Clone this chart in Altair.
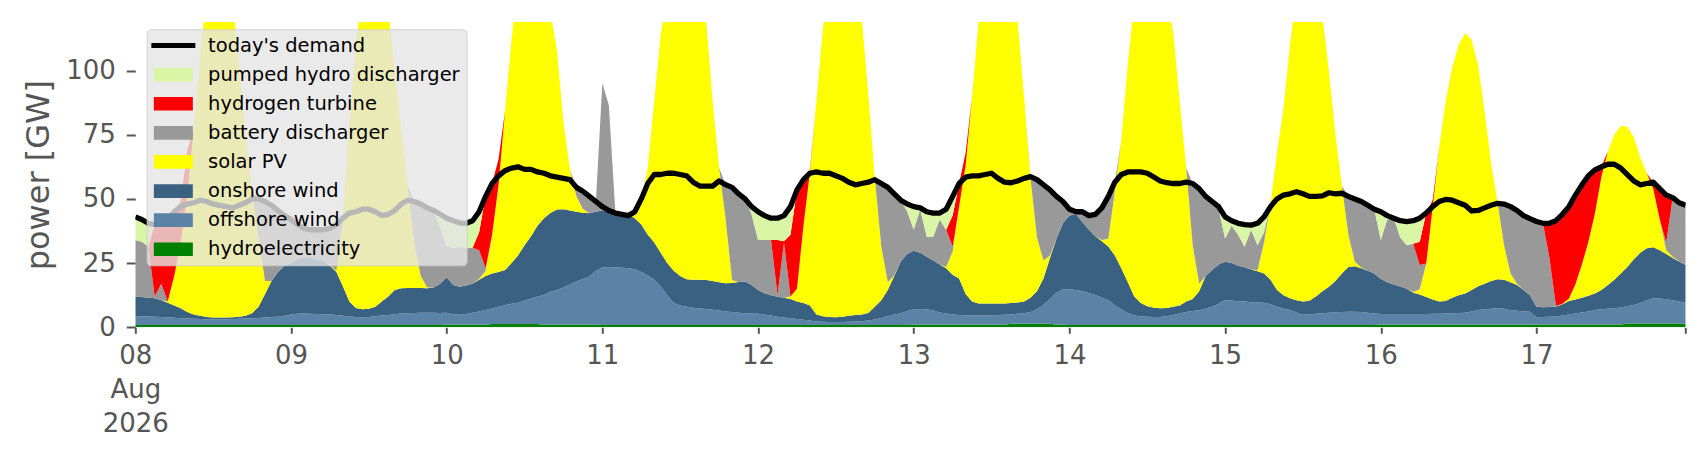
import altair as alt
import pandas as pd

# hourly values, 8-17 Aug 2026 (UTC), GW -- one row of 24 per day
hydroelectricity = [
    0.9, 0.9, 0.9, 0.9, 0.9, 0.9, 0.9, 0.9, 0.9, 0.9, 0.9, 0.9, 0.9, 0.9, 0.9, 0.9, 0.9, 0.9, 0.9, 0.9, 0.9, 0.9, 0.9, 0.9,
    0.9, 0.9, 0.9, 0.9, 0.9, 0.9, 0.9, 0.9, 0.9, 0.9, 0.9, 0.9, 0.9, 0.9, 0.9, 0.9, 0.9, 0.9, 0.9, 0.9, 0.9, 0.9, 0.9, 0.9,
    1.0, 1.0, 1.0, 1.0, 1.0, 1.0, 1.0, 1.3, 1.3, 1.3, 1.3, 1.3, 1.3, 1.3, 1.3, 1.0, 1.0, 1.0, 1.0, 1.0, 1.0, 1.0, 1.0, 1.0,
    0.9, 0.9, 0.9, 0.9, 0.9, 0.9, 0.9, 0.9, 0.9, 0.9, 0.9, 0.9, 0.9, 0.9, 0.9, 0.9, 0.9, 0.9, 0.9, 0.9, 0.9, 0.9, 0.9, 0.9,
    0.9, 0.9, 0.9, 0.9, 0.9, 0.9, 0.9, 0.9, 0.9, 0.9, 0.9, 0.9, 0.9, 0.9, 0.9, 0.9, 0.9, 0.9, 0.9, 0.9, 0.9, 0.9, 0.9, 0.9,
    1.0, 1.0, 1.0, 1.0, 1.0, 1.0, 1.0, 1.0, 1.0, 1.0, 1.0, 1.0, 1.0, 1.0, 1.0, 1.4, 1.4, 1.4, 1.4, 1.4, 1.4, 1.4, 1.0, 1.0,
    0.9, 0.9, 0.9, 0.9, 0.9, 0.9, 0.9, 0.9, 0.9, 0.9, 0.9, 0.9, 0.9, 0.9, 0.9, 0.9, 0.9, 0.9, 0.9, 0.9, 0.9, 0.9, 0.9, 0.9,
    0.9, 0.9, 0.9, 0.9, 0.9, 0.9, 0.9, 0.9, 0.9, 0.9, 0.9, 0.9, 0.9, 0.9, 0.9, 0.9, 0.9, 0.9, 0.9, 0.9, 0.9, 0.9, 0.9, 0.9,
    1.0, 1.0, 1.0, 1.0, 1.0, 1.0, 1.0, 1.0, 1.0, 1.0, 1.0, 1.0, 1.0, 1.0, 1.0, 1.0, 1.0, 1.0, 1.0, 1.0, 1.0, 1.0, 1.0, 1.0,
    1.1, 1.1, 1.1, 1.1, 1.1, 1.1, 1.1, 1.1, 1.1, 1.1, 1.1, 1.1, 1.1, 1.1, 1.5, 1.5, 1.5, 1.5, 1.5, 1.5, 1.5, 1.5, 1.5, 1.5,
]
offshore_wind = [
    3.5, 3.4, 3.3, 3.2, 3.1, 3.0, 2.8, 2.6, 2.5, 2.4, 2.3, 2.2, 2.2, 2.2, 2.2, 2.3, 2.4, 2.5, 2.6, 2.7, 2.9, 3.1, 3.2, 3.6,
    4.1, 4.4, 4.5, 4.4, 4.3, 4.2, 4.1, 3.9, 3.6, 3.3, 3.1, 3.0, 3.1, 3.4, 3.7, 3.9, 4.2, 4.5, 4.6, 4.7, 4.8, 4.8, 4.8, 4.7,
    4.7, 4.0, 3.9, 4.2, 4.7, 5.2, 5.7, 6.0, 6.7, 7.3, 7.9, 8.3, 9.0, 9.9, 10.7, 11.6, 12.8, 13.5, 14.5, 15.8, 16.8, 17.8, 18.8, 21.0,
    22.4, 22.6, 22.5, 22.3, 22.1, 21.7, 20.6, 19.4, 17.6, 15.1, 11.6, 8.6, 7.6, 7.1, 6.7, 6.4, 6.2, 5.9, 5.6, 5.3, 5.1, 4.8, 4.6, 4.5,
    4.4, 4.1, 3.7, 3.2, 2.9, 2.6, 2.3, 2.0, 1.7, 1.4, 1.3, 1.2, 1.2, 1.2, 1.3, 1.4, 1.5, 1.7, 2.1, 2.7, 3.4, 4.1, 4.6, 5.4,
    6.0, 6.1, 6.0, 5.5, 4.8, 4.4, 4.0, 3.8, 3.7, 3.7, 3.7, 3.7, 3.7, 3.8, 3.9, 3.6, 3.9, 4.1, 4.6, 5.6, 7.4, 9.6, 12.5, 13.8,
    13.9, 13.6, 13.1, 12.5, 11.7, 10.6, 9.7, 7.6, 6.1, 4.6, 3.7, 3.4, 3.2, 3.1, 3.1, 3.4, 3.9, 4.5, 5.1, 5.4, 5.7, 6.4, 7.1, 8.4,
    9.7, 9.5, 9.2, 9.1, 8.9, 8.8, 8.7, 8.1, 7.1, 6.3, 5.8, 4.9, 4.0, 4.2, 4.4, 4.6, 4.8, 5.0, 5.1, 5.2, 5.2, 5.1, 4.8, 4.5,
    4.2, 4.2, 4.2, 4.2, 4.2, 4.2, 4.2, 4.2, 4.3, 4.3, 4.4, 4.5, 4.6, 4.7, 5.2, 5.7, 6.0, 6.2, 6.4, 6.2, 5.6, 5.4, 5.2, 5.1,
    2.8, 2.9, 3.0, 3.1, 3.5, 3.9, 4.3, 4.7, 5.1, 5.6, 5.9, 6.1, 6.3, 6.6, 6.7, 7.2, 8.0, 9.0, 9.8, 9.7, 9.4, 9.0, 8.5, 8.1,
]
onshore_wind = [
    7.6, 7.5, 7.3, 7.2, 6.5, 5.7, 4.8, 3.9, 2.6, 1.7, 1.3, 0.9, 0.7, 0.7, 0.7, 0.7, 0.8, 1.1, 2.0, 4.4, 9.2, 14.0, 17.4, 19.5,
    20.0, 21.2, 21.8, 21.7, 21.3, 20.9, 19.0, 16.7, 11.5, 5.8, 3.5, 3.1, 3.2, 3.7, 5.4, 7.2, 9.4, 9.8, 9.8, 9.7, 9.6, 9.5, 9.8, 11.4,
    13.8, 11.5, 10.9, 11.1, 11.3, 12.3, 13.3, 13.7, 13.5, 13.7, 15.8, 18.4, 21.7, 24.3, 27.5, 29.9, 30.7, 31.4, 30.5, 28.7, 27.2, 25.8, 24.6, 23.0,
    22.2, 22.0, 21.6, 21.3, 21.0, 19.9, 18.5, 15.7, 14.5, 13.0, 12.5, 12.5, 11.5, 10.7, 10.9, 11.2, 11.3, 11.2, 11.0, 11.0, 11.3, 11.9, 12.3, 11.1,
    9.2, 8.3, 7.9, 7.8, 7.7, 7.5, 6.8, 6.6, 5.9, 2.7, 2.1, 1.9, 1.8, 2.0, 2.3, 2.5, 2.6, 3.0, 5.0, 6.9, 10.2, 15.0, 20.1, 22.2,
    22.8, 21.9, 20.5, 19.5, 18.7, 17.6, 15.5, 14.2, 8.3, 5.3, 4.6, 4.6, 4.6, 4.5, 4.4, 4.5, 4.4, 4.5, 5.5, 7.0, 10.2, 16.0, 21.0, 25.7,
    28.7, 29.5, 27.0, 24.6, 22.9, 22.0, 20.9, 19.5, 16.0, 12.0, 7.4, 5.2, 4.1, 3.6, 3.4, 3.2, 3.2, 3.1, 4.0, 4.7, 7.4, 12.7, 14.3, 15.2,
    14.9, 14.6, 13.9, 13.4, 12.7, 12.1, 11.4, 9.5, 6.5, 5.3, 4.6, 4.7, 5.1, 5.2, 6.7, 8.5, 10.1, 12.1, 15.0, 17.4, 17.7, 17.0, 16.3, 15.6,
    13.6, 12.3, 11.5, 10.7, 9.8, 8.3, 7.6, 6.6, 5.5, 4.7, 4.8, 6.0, 6.9, 7.5, 8.3, 9.3, 10.0, 10.8, 11.3, 11.3, 10.9, 10.1, 8.3, 6.4,
    4.1, 3.8, 3.8, 3.8, 4.4, 5.2, 5.4, 5.7, 6.1, 6.5, 7.5, 9.3, 11.1, 13.3, 15.3, 17.8, 19.5, 20.3, 19.9, 18.8, 17.6, 16.5, 15.5, 14.7,
]
solar_pv = [
    0, 0, 0, 0, 0, 0.4, 11.5, 25.6, 45, 72, 101, 126, 138, 140, 135, 124, 97, 70.5, 47.5, 27, 5, 0, 0, 0,
    0, 0, 0, 0, 0, 0, 0.3, 0.5, 26, 70, 102.5, 123, 135, 138, 130, 112, 85.5, 61.8, 39.7, 17.7, 4.7, 0.3, 0, 0,
    0, 0, 0, 0, 0, 0.3, 2, 15, 34, 62, 87, 108, 110, 105, 98, 88, 78, 62, 34, 16, 6, 1.5, 0, 0,
    0, 0, 0, 0, 0.2, 1, 10, 26, 55, 85, 105, 115, 118, 117, 112, 108, 101, 70, 44.5, 25, 1, 0, 0, 0,
    0, 0, 0, 0, 0, 1, 5, 30, 52, 83, 112, 130, 138, 140, 138, 130, 115, 85, 50, 21, 3, 0.3, 0, 0,
    0, 0, 0, 0, 0, 0.5, 9, 28, 50, 80, 110, 130, 138, 140, 137, 128, 110, 80, 46.5, 21, 7, 1, 0, 0,
    0, 0, 0, 0, 0, 0.5, 3, 25, 50, 85, 115, 130, 138, 140, 134, 120, 107, 79.5, 52, 21, 3, 0, 0, 0,
    0, 0, 0, 0, 0, 0.5, 12, 29.5, 53.5, 72.5, 98.7, 119.5, 128, 130, 126, 107, 84, 57, 34, 12.5, 1.7, 0.3, 0, 0,
    0, 0, 0, 0, 0, 0.2, 2, 13, 36, 60, 77.8, 89.5, 97.5, 101.3, 97.5, 86, 67, 46, 29.8, 13.5, 3.5, 0.5, 0, 0,
    0, 0, 0, 0, 0.2, 1, 6, 13, 21, 31, 44, 52, 56.5, 57.5, 54.5, 47.5, 37, 29.2, 22.8, 12, 1.5, 0.5, 0, 0,
]
battery_discharger = [
    22, 21.5, 20, 0.7, 6.5, 0, 0, 0, 0, 0, 0, 0, 0, 0, 0, 0, 0, 0, 0, 15, 31, 29.5, 24, 19.5,
    17, 13.5, 11.3, 11, 11.5, 12, 14.2, 18, 0.5, 0, 0, 0, 0, 0, 0, 0, 0, 0, 0, 16, 28, 31, 30, 22,
    12, 14.5, 15.5, 14.5, 14, 11.2, 1, 0, 0, 0, 0, 0, 0, 0, 0, 0, 0, 0, 0, 0, 3.5, 6.9, 6.6, 4,
    49.5, 41, 0, 0, 0, 1.5, 0, 0, 0, 0, 0, 0, 0, 0, 0, 0, 0, 0, 0, 13.3, 36.2, 34.4, 32.2, 27.5,
    19.5, 20.7, 21.5, 0.6, 21.5, 0, 0, 0, 0, 0, 0, 0, 0, 0, 0, 0, 0, 0, 0, 24.5, 37, 31.7, 23.9, 16.5,
    8.2, 17, 7.8, 9.3, 17.5, 14.5, 2, 0, 0, 0, 0, 0, 0, 0, 0, 0, 0, 0, 0.7, 22.5, 29.5, 25.5, 16.5, 8.5,
    2.5, 1, 4, 5.5, 8.5, 12.5, 16.5, 3.5, 0, 0, 0, 0, 0, 0, 0, 0, 0, 0, 0, 24, 37, 31, 26.7, 21.5,
    9.1, 14.5, 12, 8, 15.5, 9.7, 4, 0, 0, 0, 0, 0, 0, 0, 0, 0, 0, 0, 0, 15, 24.5, 25.7, 25.5, 25,
    15.2, 24.5, 25.8, 19.1, 17, 18.8, 9.5, 0, 0, 0, 0, 0, 0, 0, 0, 0, 0, 0, 0, 16, 26, 28.5, 29, 29.8,
    33.2, 32.7, 19.1, 0.3, 0, 0, 0, 0, 0, 0, 0, 0, 0, 0, 0, 0, 0, 0, 0, 0, 3, 23, 23, 23.2,
]
hydrogen_turbine = [
    0, 0, 0, 28, 23.5, 31, 25, 16, 18, 0, 0, 0, 0, 0, 0, 0, 0, 0, 0, 0, 0, 0, 0, 0,
    0, 0, 0, 0, 0, 0, 0, 0, 0, 0, 0, 0, 0, 0, 0, 0, 0, 0, 0, 0, 0, 0, 0, 0,
    0, 0, 0, 0, 0, 7, 28, 20, 10, 0, 0, 0, 0, 0, 0, 0, 0, 0, 0, 0, 0, 0, 0, 0,
    0, 0, 0, 0, 0, 0, 0, 0, 0, 0, 0, 0, 0, 0, 0, 0, 0, 0, 0, 0, 0, 0, 0, 0,
    0, 0, 0, 21.5, 0.5, 24, 38.5, 18, 1, 0, 0, 0, 0, 0, 0, 0, 0, 0, 0, 0, 0, 0, 0, 0,
    0, 0, 0, 0, 0, 0, 12, 9, 5, 0, 0, 0, 0, 0, 0, 0, 0, 0, 0, 0, 0, 0, 0, 0,
    0, 0, 0, 0, 0, 0, 0, 0, 0, 0, 0, 0, 0, 0, 0, 0, 0, 0, 0, 0, 0, 0, 0, 0,
    0, 0, 0, 0, 0, 0, 0, 0, 0, 0, 0, 0, 0, 0, 0, 0, 0, 0, 0, 0, 0, 0, 0, 0,
    0, 0, 0, 0, 0, 0, 9, 19.7, 2.8, 0, 0, 0, 0, 0, 0, 0, 0, 0, 0, 0, 0, 0, 0, 0,
    0, 0, 13.5, 33.2, 34.8, 35.8, 34.7, 31, 25.7, 17.1, 4, 0, 0, 0, 0, 0, 0, 0, 2.5, 12, 18.5, 0, 0, 0,
]
pumped_hydro_discharger = [
    9, 8.7, 9, 0, 0, 0, 0, 0, 0, 0, 0, 0, 0, 0, 0, 0, 0, 0, 0, 0, 0, 0, 0, 0,
    0, 0, 0, 0, 0, 0, 0, 0, 0, 0, 0, 0, 0, 0, 0, 0, 0, 0, 0, 0, 0, 0, 0, 5,
    11, 10.5, 9.4, 9.7, 10.5, 8, 0, 0, 0, 0, 0, 0, 0, 0, 0, 0, 0, 0, 0, 0, 0, 0, 0, 0,
    0, 0, 0, 0, 0, 0, 0, 0, 0, 0, 0, 0, 0, 0, 0, 0, 0, 0, 0, 0, 0, 0, 0, 3,
    11, 9.5, 8.5, 8.5, 10, 11, 0, 0, 0, 0, 0, 0, 0, 0, 0, 0, 0, 0, 0, 0, 0, 0, 0, 3,
    9, 0.5, 9.7, 9.2, 2.5, 8, 7.5, 0, 0, 0, 0, 0, 0, 0, 0, 0, 0, 0, 0, 0, 0, 0, 0, 0,
    0, 0, 0, 0, 0, 0, 0, 0, 0, 0, 0, 0, 0, 0, 0, 0, 0, 0, 0, 0, 0, 0, 0, 1,
    8.4, 2, 4.5, 8.6, 1.8, 8.5, 6, 0, 0, 0, 0, 0, 0, 0, 0, 0, 0, 0, 0, 0, 0, 0, 0, 0,
    11, 1.5, 0, 6.5, 9.2, 9, 9.2, 0, 0, 0, 0, 0, 0, 0, 0, 0, 0, 0, 0, 0, 0, 0, 0, 0,
    0, 0, 0, 0, 0, 0, 0, 0, 0, 0, 0, 0, 0, 0, 0, 0, 0, 0, 0, 0, 0, 0, 0, 0,
]
todays_demand = [
    43, 42, 40.5, 40, 40.5, 41, 45, 47, 48, 48.5, 49.5, 49, 48, 47.5, 47, 46.5, 47.5, 48.5, 50, 50, 49, 47.5, 45.5, 43.5,
    42, 40, 38.5, 38, 38, 38, 38.5, 40, 42.5, 44.5, 45, 46, 46, 45, 43.5, 44, 45.5, 48, 49.5, 49, 48, 46.5, 45.5, 44,
    42.5, 41.5, 40.7, 40.5, 41.5, 45, 51, 56, 59, 61, 62, 62.5, 61.5, 61.5, 60.5, 60, 59, 58.5, 58, 57.5, 54.5, 53, 51, 49,
    47, 45.5, 44.5, 44, 43.5, 45, 50, 56, 59.5, 59.5, 60, 60, 59.5, 59, 56.5, 55, 55, 55, 57, 55.5, 54.5, 52, 50, 47,
    45, 43.5, 42.5, 42.5, 43.5, 47, 53.5, 57.5, 60, 60.5, 60, 60, 59, 58, 56.5, 55.5, 56, 56.5, 57.5, 56, 54.5, 52, 49.5, 48,
    47, 46.5, 45, 44.5, 44.5, 46, 51, 56, 58.5, 59, 59, 59.5, 60, 58, 56.5, 56.3, 57, 58, 58.7, 57.5, 55.5, 53.5, 51, 49,
    46, 45, 45, 43.5, 44, 46.5, 51, 56.5, 59.5, 60.5, 60.5, 60.5, 60, 58.5, 57, 56.3, 56, 56, 56.5, 56, 54, 51, 49, 47,
    43, 41.5, 40.5, 40, 39.8, 40.5, 43, 47, 50, 51.5, 52, 52.8, 52, 51, 51, 51.2, 52.4, 52, 52.2, 51, 50, 49, 47.5, 46,
    45, 43.5, 42.5, 41.5, 41.2, 41.5, 42.5, 44.5, 47, 49, 49.8, 49.5, 48.5, 47.5, 45.3, 45.5, 46.5, 47.5, 48.3, 48, 47, 45.5, 43.5, 42.3,
    41.2, 40.5, 40.5, 41.5, 44, 47, 51.5, 55.5, 59, 61.3, 62.5, 63.5, 63.5, 62, 59.5, 57, 55.5, 56, 56.5, 54, 51.5, 50.5, 48.5, 47.5,
]

legend_order = ["today's demand", "pumped hydro discharger", "hydrogen turbine",
                "battery discharger", "solar PV", "onshore wind", "offshore wind",
                "hydroelectricity"]
legend_colors = ["#000000", "#d9f5a6", "#ff0000", "#999999", "#ffff00",
                 "#3b6182", "#5b83a6", "#008000"]

hours = pd.date_range("2026-08-08", periods=240, freq="h").strftime("%Y-%m-%dT%H:%M:%SZ")

# bottom to top of the stack
stack = [
    ("hydroelectricity", hydroelectricity),
    ("offshore wind", offshore_wind),
    ("onshore wind", onshore_wind),
    ("solar PV", solar_pv),
    ("battery discharger", battery_discharger),
    ("hydrogen turbine", hydrogen_turbine),
    ("pumped hydro discharger", pumped_hydro_discharger),
]
gen = pd.concat([
    pd.DataFrame({"time": hours, "tech": name, "power": vals, "stack": k})
    for k, (name, vals) in enumerate(stack)
])
dem = pd.DataFrame({"time": hours, "tech": "today's demand", "power": todays_demand})

font = "DejaVu Sans"
grey = "#555555"

day_ticks = [alt.DateTime(year=2026, month=8, date=d, hours=0, utc=True) for d in range(8, 18)]
day_ticks.append(alt.DateTime(year=2026, month=8, date=17, hours=23, utc=True))

x_enc = alt.X(
    "time:T",
    scale=alt.Scale(type="utc", nice=False,
                    domain=[alt.DateTime(year=2026, month=8, date=8, hours=0, utc=True),
                            alt.DateTime(year=2026, month=8, date=17, hours=23, utc=True)]),
    axis=alt.Axis(values=day_ticks, grid=False, domain=False, title=None,
                  tickSize=6, tickWidth=2, tickColor=grey,
                  labelFont=font, labelFontSize=26, labelColor=grey,
                  labelPadding=9, labelLineHeight=34, labelBaseline="top",
                  labelOverlap=False, labelFlush=False, labelBound=False,
                  labelExpr="utcdate(datum.value) == 8 && utchours(datum.value) == 0 ? ['08', 'Aug', '2026'] : "
                            "(utchours(datum.value) == 0 ? utcFormat(datum.value, '%d') : '')"),
)
y_enc = alt.Y(
    "power:Q",
    stack="zero",
    scale=alt.Scale(domain=[0, 118.9], nice=False),
    axis=alt.Axis(values=[0, 25, 50, 75, 100], grid=False, domain=False,
                  tickSize=9, tickWidth=2, tickColor=grey,
                  labelFont=font, labelFontSize=26, labelColor=grey, labelPadding=11,
                  title="power [GW]", titleFont=font, titleFontSize=32,
                  titleFontWeight="normal", titleColor=grey, titleAngle=270,
                  titleAlign="center", titleBaseline="middle",
                  titleX=-97, titleY=152.6),
)

# demand gets a thin bar (a line) in the legend, the rest filled patches;
# a small symbolSize keeps the rows tight, the paths carry the real extent
rect_path = "M-3.9,-1.37H3.9V1.37H-3.9Z"
line_path = "M-4.4,-0.5H4.4V0.5H-4.4Z"
legend = alt.Legend(
    orient="none", legendX=11.3, legendY=7.3, title=None,
    fillColor="rgba(229,229,229,0.8)", strokeColor="rgba(204,204,204,0.8)",
    cornerRadius=4, padding=6.5, rowPadding=8.1,
    labelFont=font, labelFontSize=19.5, labelColor="black",
    labelOffset=25, labelLimit=600,
    symbolSize=100, symbolOffset=10.5, symbolStrokeWidth=0, symbolOpacity=1,
    symbolType=alt.ExprRef("indexof(datum.value, 'demand') >= 0 ? '%s' : '%s'" % (line_path, rect_path)),
)
color = alt.Color("tech:N", scale=alt.Scale(domain=legend_order, range=legend_colors),
                  legend=legend)

areas = alt.Chart(gen).mark_area(interpolate="linear", clip=True).encode(
    x=x_enc, y=y_enc, color=color, order=alt.Order("stack:Q", sort="ascending"),
)

demand_line = alt.Chart(dem).mark_line(strokeWidth=5.3, strokeJoin="round", clip=True).encode(
    x=x_enc, y=alt.Y("power:Q", stack=None), color=color,
)

chart = alt.layer(areas, demand_line).properties(
    width=1550.4, height=305.3,
    autosize=alt.AutoSizeParams(type="none"),
    padding={"left": 127.3, "top": 14, "right": 12, "bottom": 110},
    background="white",
).configure_view(stroke=None)

chart.save("out.html", embed_options={"renderer": "svg", "actions": False})
